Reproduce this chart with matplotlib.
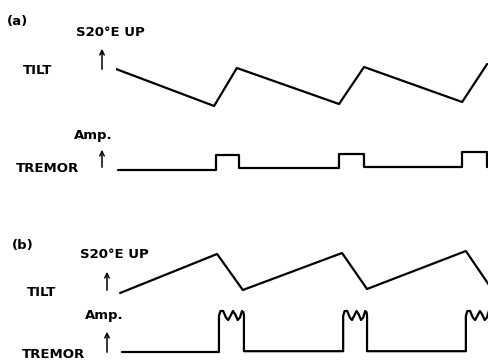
import matplotlib
matplotlib.use("Agg")
import matplotlib.pyplot as plt

# tamaño de la figura en pixeles
W, H = 489, 364

# eje de tiempo comun (unidades arbitrarias, 0..10)
# (a) inclinacion: tiempo y nivel relativo
tilt_a_t = [0.0, 2.63, 3.24, 5.98, 6.65, 9.28, 9.95]
tilt_a_v = [3.7, 0.0, 3.8, 0.2, 3.9, 0.4, 4.2]

# (a) tremor: pulsos rectangulares (inicio, fin, amplitud) y linea base
tremor_a_start = 0.05
tremor_a_on = [2.68, 5.98, 9.28]
tremor_a_off = [3.30, 6.65, 9.94]
tremor_a_amp = [1.07, 1.14, 1.29]
tremor_a_base = [0.0, 0.15, 0.2, 0.2]

# (b) inclinacion
tilt_b_t = [0.11, 2.71, 3.40, 6.06, 6.73, 9.38, 10.0]
tilt_b_v = [0.0, 3.9, 0.3, 4.0, 0.4, 4.2, 0.8]

# (b) tremor: pulsos con cresta ondulada
tremor_b_start = 0.16
tremor_b_on = [2.76, 6.09, 9.38]
tremor_b_off = [3.43, 6.73, 10.05]
tremor_b_base = [0.0, 0.02, 0.02, 0.02]
# perfil de la cresta (posicion relativa dentro del pulso, nivel)
cresta_pos = [0.00, 0.06, 0.17, 0.28, 0.37, 0.46, 0.56, 0.65, 0.75, 0.84, 0.92, 0.98, 1.00]
cresta_niv = [0.88, 1.00, 1.00, 0.84, 0.78, 0.88, 1.00, 0.92, 0.78, 0.84, 1.00, 0.97, 0.88]

fig = plt.figure(figsize=(W / 100, H / 100), dpi=100)

X0, X1 = 116, 489  # ejes de tiempo en pixeles


def eje_traza(py_cero, px_por_unidad, lo, hi):
    # crea un eje sin marco cuyo nivel 0 cae en py_cero (pixeles desde arriba)
    y_top = py_cero - hi * px_por_unidad
    y_bot = py_cero - lo * px_por_unidad
    ax = fig.add_axes([X0 / W, 1 - y_bot / H, (X1 - X0) / W, (y_bot - y_top) / H])
    ax.set_xlim(0, 10)
    ax.set_ylim(lo, hi)
    ax.axis("off")
    return ax


def escalones(start, on, off, amps, base, end=10.2):
    xs, ys = [start], [base[0]]
    for i in range(len(on)):
        xs += [on[i], on[i], off[i], off[i]]
        ys += [base[i], amps[i], amps[i], base[i + 1]]
    xs.append(end)
    ys.append(base[-1])
    return xs, ys


def escalones_ondulados(start, on, off, base, end=10.2):
    xs, ys = [start], [base[0]]
    for i in range(len(on)):
        xs.append(on[i])
        ys.append(base[i])
        for p, n in zip(cresta_pos, cresta_niv):
            xs.append(on[i] + p * (off[i] - on[i]))
            ys.append(n)
        xs.append(off[i])
        ys.append(base[i + 1])
    xs.append(end)
    ys.append(base[-1])
    return xs, ys


estilo = dict(color="black", lw=1.6, solid_joinstyle="round", solid_capstyle="round")

# (a)
ax = eje_traza(106, 10, -1, 5)
ax.plot(tilt_a_t, tilt_a_v, **estilo)

ax = eje_traza(170, 14, -0.5, 2)
xs, ys = escalones(tremor_a_start, tremor_a_on, tremor_a_off, tremor_a_amp, tremor_a_base)
ax.plot(xs, ys, **estilo)

# (b)
ax = eje_traza(293, 10, -1, 5)
ax.plot(tilt_b_t, tilt_b_v, **estilo)

ax = eje_traza(352, 41, -0.2, 1.2)
xs, ys = escalones_ondulados(tremor_b_start, tremor_b_on, tremor_b_off, tremor_b_base)
ax.plot(xs, ys, **estilo)

# capa de textos y flechas en pixeles
lab = fig.add_axes([0, 0, 1, 1])
lab.set_xlim(0, W)
lab.set_ylim(H, 0)
lab.axis("off")
lab.patch.set_alpha(0)

txt = dict(fontsize=9.5, fontweight="bold", ha="center", va="center", color="black")
flecha = dict(arrowstyle="->", lw=1.1, color="black", mutation_scale=8)

for (px, py, s) in [(17, 22, "(a)"), (110, 32, "S20°E UP"), (38, 70, "TILT"),
                    (93, 136, "Amp."), (47, 168, "TREMOR"),
                    (23, 245, "(b)"), (114, 255, "S20°E UP"), (42, 292, "TILT"),
                    (104, 316, "Amp."), (54, 354, "TREMOR")]:
    lab.text(px, py, s, **txt)

for (px, y0, y1) in [(102, 72, 46), (102, 170, 147), (107, 293, 269), (107, 355, 329)]:
    lab.annotate("", xy=(px, y1), xytext=(px, y0), arrowprops=flecha)

fig.savefig("out.png", dpi=100)
